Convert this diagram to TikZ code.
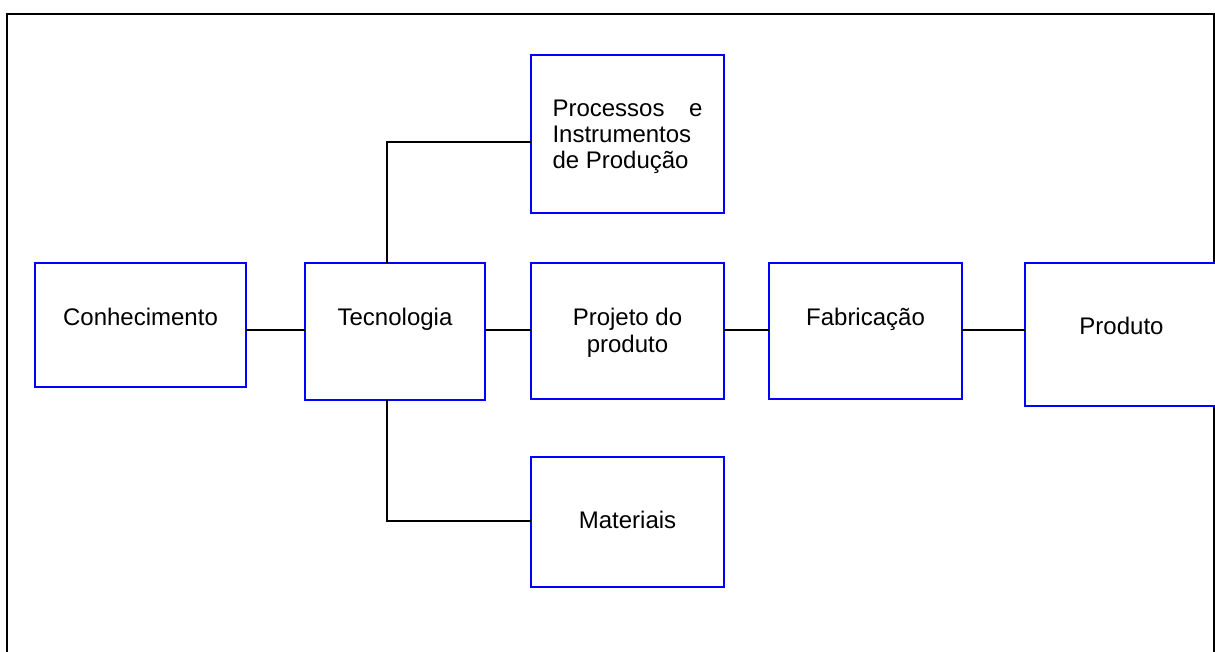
\documentclass[tikz,border=0pt]{standalone}
\usepackage{fontspec}
\setmainfont{Liberation Sans}
\tikzset{%
  box/.style={draw=blue,line width=0.9pt,fill=white,inner sep=0pt,
    outer sep=0pt,align=center,font=\fontsize{12}{13.5}\selectfont},%
  link/.style={line width=0.6pt},% connectors
  frame/.style={line width=0.9pt}%
}

\begin{document}
\begin{tikzpicture}[x=0.5pt,y=-0.5pt] % pixel units, y downwards

%% page size

\useasboundingbox (0,0) rectangle (1215,652);

%% outer frame

\draw[frame] (7,14) rectangle (1214,700);

%% boxes

\node[box,minimum width=105.5pt,minimum height=62pt,text height=31pt,
  text depth=31pt] (con) at (140.5,325) {Conhecimento};
\node[box,minimum width=90pt,minimum height=68.5pt,text height=31pt,
  text depth=37.5pt] (tec) at (395,331.5) {Tecnologia};
\node[box,minimum width=96.5pt,minimum height=68pt,text height=44.5pt,
  text depth=23.5pt] (proj) at (627.5,331) {Projeto do\\produto};
\node[box,minimum width=96.5pt,minimum height=68pt,text height=31pt,
  text depth=37pt] (fab) at (865.5,331) {Fabricação};
\node[box,minimum width=96.5pt,minimum height=71.5pt,text height=35.5pt,
  text depth=36pt] (prod) at (1121.5,334.5) {Produto};
\node[box,align=left,font=\fontsize{12}{13}\selectfont,minimum width=96.5pt,
  minimum height=79pt,text height=57pt,text depth=22pt] (proc) at (627.5,134)
  {\makebox[75pt][l]{Processos\hfill e}\\Instrumentos\\de Produção};
\node[box,minimum width=96.5pt,minimum height=65pt,text height=35.5pt,
  text depth=29.5pt] (mat) at (627.5,522) {Materiais};

%% connectors

\coordinate (row) at (0,330); % height of the main line
\coordinate (up) at (387,142); % branch to the processes
\coordinate (dn) at (387,521); % branch to the materials

\draw[link] (con.east |- row) -- (tec.west |- row);
\draw[link] (tec.east |- row) -- (proj.west |- row);
\draw[link] (proj.east |- row) -- (fab.west |- row);
\draw[link] (fab.east |- row) -- (prod.west |- row);
\draw[link] (tec.north -| up) |- (proc.west |- up);
\draw[link] (tec.south -| dn) |- (mat.west |- dn);

\end{tikzpicture}
\end{document}
